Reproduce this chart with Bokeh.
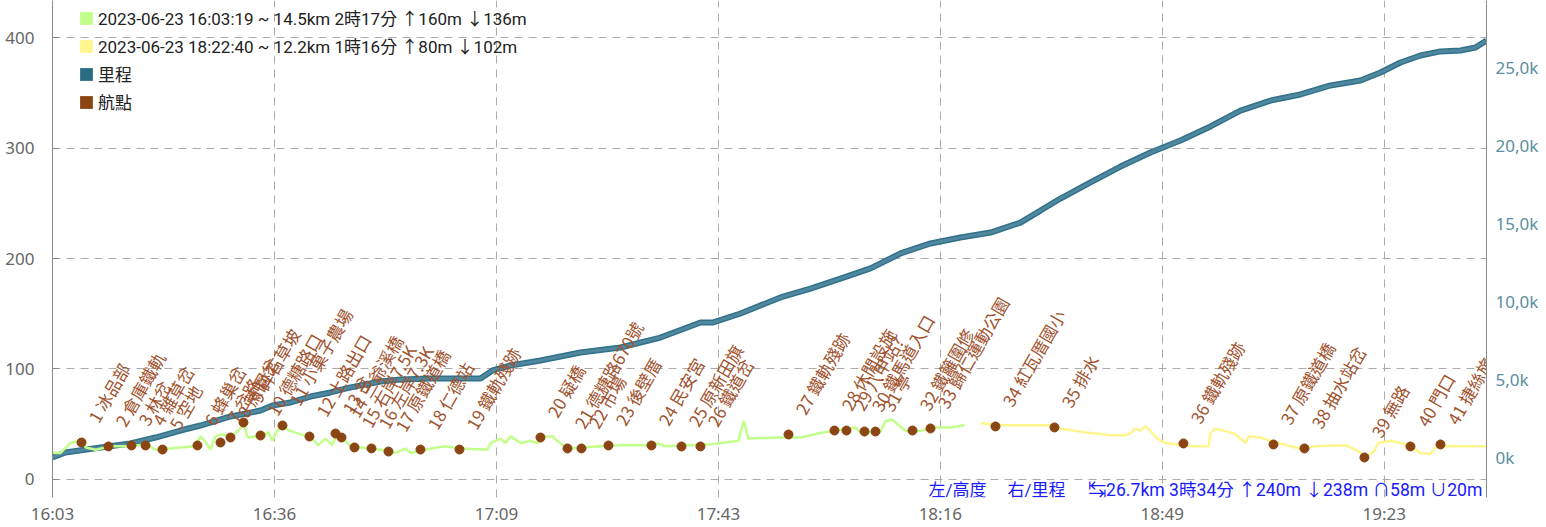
import datetime as dt
from bokeh.plotting import figure
from bokeh.models import (ColumnDataSource, LinearAxis, Range1d, FixedTicker,
                          DatetimeTickFormatter, Legend, LegendItem, Label)
from bokeh.embed import file_html
from bokeh.resources import INLINE
from bokeh.core.properties import value

# ---------------- data ----------------
START = dt.datetime(2023, 6, 23, 16, 3, 19)
TOTAL_MIN = 215.35

legend_labels = [
    "2023-06-23 16:03:19 ~ 14.5km 2時17分 ↑160m ↓136m",
    "2023-06-23 18:22:40 ~ 12.2km 1時16分 ↑80m ↓102m",
    "里程",
    "航點",
]

# track 1 elevation (minutes from start, metres)
trk1_min = [0.0, 1.2, 2.7, 3.9, 5.0, 6.5, 8.7, 11.7, 14.0, 15.5, 19.2, 21.5, 22.2, 23.0, 23.7,
            24.5, 25.5, 26.7, 28.2, 28.7, 29.3, 30.5, 31.5, 32.4, 33.0, 33.6, 34.5, 35.7, 37.2,
            38.7, 39.9, 41.0, 42.0, 42.8, 43.5, 44.8, 46.3, 49.3, 51.5, 53.0, 53.8, 55.3, 56.8,
            59.0, 61.3, 65.3, 65.8, 66.5, 67.3, 68.0, 68.8, 70.3, 71.8, 72.8, 74.0, 75.1, 75.8,
            77.3, 82.3, 85.3, 89.8, 90.6, 92.1, 99.1, 103.0, 103.8, 104.5, 109.3, 112.3, 115.3,
            118.3, 120.6, 121.3, 124.3, 125.1, 126.1, 126.9, 128.1, 130.3, 132.6, 134.9, 137.0]
trk1_ele = [24, 24, 33, 35, 29, 27, 30, 30, 32, 27, 29, 30, 39, 34, 27,
            39, 41, 38, 46, 51, 38, 39, 39, 43, 35, 43, 48, 44, 41,
            39, 31, 37, 31, 42, 38, 30, 29, 27, 24, 28, 24, 26, 28,
            30, 28, 27, 33, 35, 37, 33, 39, 33, 35, 33, 39, 39, 35,
            28, 30, 31, 31, 33, 30, 32, 35, 53, 37, 38, 38, 42,
            45, 47, 43, 43, 53, 54, 50, 44, 44, 47, 47, 49]

# track 2 elevation
trk2_min = [139.4, 142.4, 150.6, 151.4, 153.6, 155.9, 158.9, 161.1, 161.9, 162.6, 163.4, 164.1,
            164.9, 165.9, 167.1, 170.9, 173.6, 173.9, 174.6, 176.1, 177.6, 179.2, 179.6, 181.4,
            182.9, 185.9, 187.4, 189.7, 194.2, 195.7, 197.2, 198.4, 199.1, 201.0, 202.4, 203.9,
            205.4, 206.9, 208.0, 209.2, 215.3]
trk2_ele = [51, 49, 49, 46, 44, 42, 40, 40, 42, 46, 44, 48,
            44, 37, 33, 30, 30, 42, 46, 44, 41, 33, 39, 38,
            35, 30, 28, 30, 31, 27, 21, 25, 33, 35, 33, 31,
            24, 23, 31, 30, 30]

# cumulative distance (minutes, km)
dist_min = [0.0, 1.95, 7.21, 11.71, 15.47, 19.22, 22.22, 26.73, 31.24, 33.04, 35.74, 38.74,
            41.75, 44.00, 46.25, 49.26, 52.26, 56.77, 64.28, 66.08, 68.78, 73.28, 79.29, 85.30,
            91.30, 97.31, 99.11, 103.32, 109.32, 113.83, 118.33, 122.84, 127.34, 131.85, 136.35,
            140.86, 145.36, 148.37, 151.37, 155.88, 160.38, 164.89, 169.39, 173.90, 178.40,
            182.91, 187.41, 191.92, 196.42, 199.43, 202.43, 205.43, 208.44, 211.44, 213.70, 215.35]
dist_km = [0.0, 0.32, 0.64, 0.90, 1.28, 1.73, 2.05, 2.63, 3.01, 3.33, 3.53, 3.91,
           4.17, 4.42, 4.62, 4.87, 5.00, 5.06, 5.06, 5.58, 5.90, 6.22, 6.73, 7.05,
           7.69, 8.65, 8.65, 9.23, 10.26, 10.83, 11.47, 12.12, 13.08, 13.72, 14.10,
           14.42, 15.06, 15.83, 16.60, 17.63, 18.65, 19.55, 20.32, 21.22, 22.24,
           22.88, 23.27, 23.85, 24.17, 24.68, 25.32, 25.77, 26.03, 26.09, 26.28, 26.73]

# waypoints
wpt_min = [4.36, 8.41, 11.86, 13.97, 16.52, 21.77, 25.23, 26.73, 28.68, 31.24, 34.54, 38.59,
           42.50, 43.40, 45.35, 47.90, 50.46, 55.26, 61.12, 73.28, 77.34, 79.44, 83.49, 89.95,
           94.46, 97.31, 110.53, 117.43, 119.23, 121.94, 123.59, 129.15, 131.85, 141.61, 150.47,
           169.84, 183.36, 188.01, 197.02, 203.93, 208.44]
wpt_ele = [33.5, 29.9, 30.8, 30.8, 27.1, 30.8, 33.5, 38.0, 51.6, 39.8, 48.9, 38.9,
           41.6, 38.0, 29.0, 28.1, 25.3, 27.1, 27.1, 38.0, 28.1, 28.1, 30.8, 30.8,
           29.9, 29.9, 40.7, 44.3, 44.3, 43.4, 43.4, 44.3, 46.2, 48.0, 47.1,
           32.6, 31.7, 28.1, 19.9, 29.9, 31.7]
wpt_names = ["1 冰品部", "2 倉庫鐵軌", "3 林岔", "4 雜草岔", "5 空地", "6 蜂巢岔", "7 岔路",
             "8 蔗園岔", "9 碎石草坡", "10 德糖路口", "11 小菓子農場", "12 土路出口", "13 岔",
             "14 三爺溪橋", "15 右岸7.5K", "16 左岸7.3K", "17 原鐵道橋", "18 仁德站",
             "19 鐵軌殘跡", "20 疑橋", "21 德糖路670號", "22 市場", "23 後壁厝", "24 民安宮",
             "25 原新田旗", "26 鐵道岔", "27 鐵軌殘跡", "28 休閒設施", "29 八甲站?",
             "30 鐵馬道入口", "31 亭", "32 鐵籬圍修", "33 歸仁運動公園", "34 紅瓦厝國小",
             "35 排水", "36 鐵軌殘跡", "37 原鐵道橋", "38 抽水站岔", "39 無路", "40 門口",
             "41 捷絲旅"]

left_ticks = [0, 100, 200, 300, 400]
right_ticks = [0, 5000, 10000, 15000, 20000, 25000]
right_tick_labels = ["0k", "5,0k", "10,0k", "15,0k", "20,0k", "25,0k"]
x_tick_step_s = 2000
footer_texts = ["左/高度", "右/里程", "↹26.7km 3時34分 ↑240m ↓238m ∩58m ∪20m"]

# ---------------- helpers ----------------
EPOCH = dt.datetime(1970, 1, 1)
t0_ms = (START - EPOCH).total_seconds() * 1000.0


def to_ms(mins):
    return [t0_ms + m * 60000.0 for m in mins]


CJK = "Roboto, 'Noto Sans CJK TC'"
NAN = float("nan")

p = figure(width=1546, height=527, x_axis_type="datetime",
           output_backend="svg", toolbar_location=None,
           x_range=Range1d(t0_ms, t0_ms + TOTAL_MIN * 60000.0),
           y_range=Range1d(-16.3, 433.5),
           min_border_left=52, min_border_right=60, min_border_top=0, min_border_bottom=30)
p.outline_line_color = None
p.background_fill_color = "white"
p.extra_y_ranges = {"dist": Range1d(-2564, 29295)}

# grids
for g in (p.xgrid, p.ygrid):
    g.grid_line_color = "#aaaaaa"
    g.grid_line_dash = "8 6"
    g.grid_line_width = 1

# x axis
xa = p.xaxis[0]
xa.ticker = FixedTicker(ticks=[t0_ms + k * x_tick_step_s * 1000.0 for k in range(7)])
xa.formatter = DatetimeTickFormatter(seconds="%H:%M", minsec="%H:%M", minutes="%H:%M",
                                     hourmin="%H:%M", hours="%H:%M", days="%H:%M")
xa.axis_line_color = None
xa.major_tick_in = 0
xa.major_tick_out = 0
xa.minor_tick_line_color = None
xa.major_label_text_font = "Noto Sans"
xa.major_label_text_font_size = "17px"
xa.major_label_text_color = "#666666"
xa.major_label_standoff = 4

# left axis
ya = p.yaxis[0]
ya.ticker = FixedTicker(ticks=left_ticks)
ya.axis_line_color = "#888888"
ya.major_tick_in = 6
ya.major_tick_out = 0
ya.major_tick_line_color = "#888888"
ya.minor_tick_line_color = None
ya.major_label_text_font = "Noto Sans"
ya.major_label_text_font_size = "17px"
ya.major_label_text_color = "#666666"
ya.major_label_standoff = 18

# right axis
ra = LinearAxis(y_range_name="dist", ticker=FixedTicker(ticks=right_ticks))
ra.major_label_overrides = {t: s for t, s in zip(right_ticks, right_tick_labels)}
ra.axis_line_color = "#888888"
ra.major_tick_in = 0
ra.major_tick_out = 0
ra.minor_tick_line_color = None
ra.major_label_text_font = "Noto Sans"
ra.major_label_text_font_size = "17px"
ra.major_label_text_color = "#5b8ea0"
ra.major_label_standoff = 9
p.add_layout(ra, "right")

# distance line
dsrc = ColumnDataSource(dict(x=to_ms(dist_min), y=[d * 1000 for d in dist_km]))
p.line("x", "y", source=dsrc, y_range_name="dist", line_width=6, line_color="#31718a")
p.line("x", "y", source=dsrc, y_range_name="dist", line_width=3, line_color="#6a9cb0",
       line_alpha=0.55)

# elevation lines
p.line(to_ms(trk1_min), trk1_ele, line_width=2.5, line_color="#c2ff8a")
p.line(to_ms(trk2_min), trk2_ele, line_width=2.5, line_color="#fff58c")

# waypoints
wsrc = ColumnDataSource(dict(x=to_ms(wpt_min), y=wpt_ele, name=wpt_names))
p.scatter("x", "y", source=wsrc, size=9, fill_color="#8b4513", line_color="#8b4513")
p.text("x", "y", text="name", source=wsrc, angle=60, angle_units="deg",
       text_align="left", text_baseline="alphabetic", x_offset=11, y_offset=-22,
       text_font=value("Noto Sans CJK TC"), text_font_size="17px", text_color="#a0522d")

# legend swatches (non-drawn quads give square swatches)
sw_colors = ["#c2ff8a", "#fff58c", "#2c6c83", "#8b4513"]
items = []
for lab, col in zip(legend_labels, sw_colors):
    r = p.quad(left=[NAN], right=[NAN], top=[NAN], bottom=[NAN], fill_color=col,
               line_color=None)
    items.append(LegendItem(label=lab, renderers=[r]))
legend = Legend(items=items, location=(26, 383), border_line_color=None,
                background_fill_alpha=0, padding=0, margin=0, spacing=3,
                label_height=20, glyph_height=16, glyph_width=16, label_standoff=4,
                label_text_font=CJK, label_text_font_size="17px", label_text_color="#222222")
p.add_layout(legend)

# footer text
for txt, xpos, fs in zip(footer_texts, [876, 955, 1036], ["17px", "17px", "17.6px"]):
    p.add_layout(Label(x=xpos, y=8, x_units="screen", y_units="screen", text=txt,
                       text_align="left", text_baseline="alphabetic", text_font=CJK,
                       text_font_size=fs, text_color="#1a1aff"))

open("out.html", "w").write(file_html(p, INLINE))
